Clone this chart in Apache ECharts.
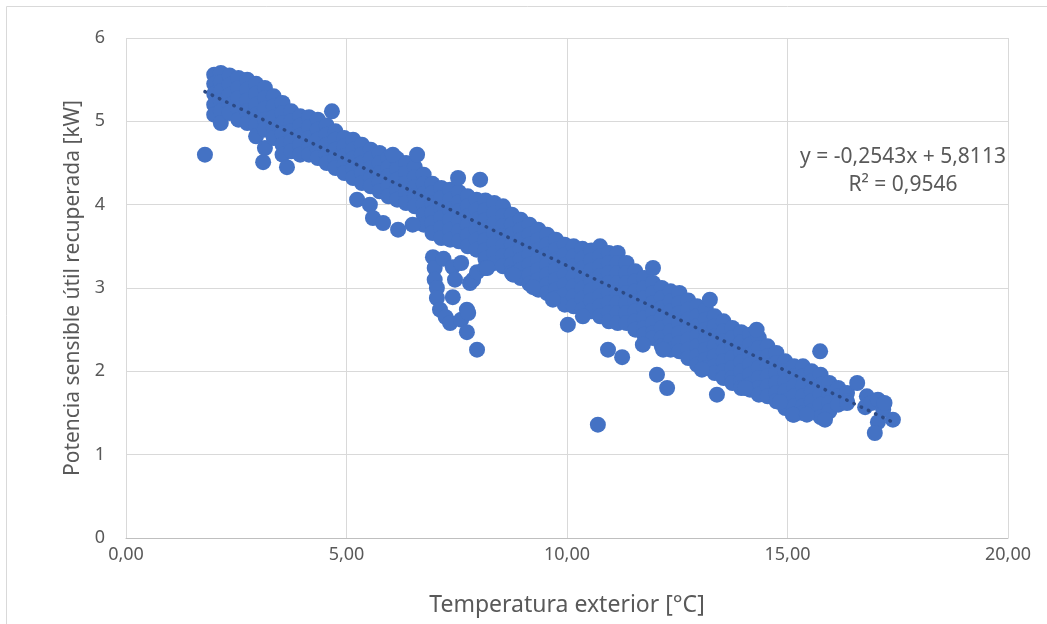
<!DOCTYPE html>
<html>
<head>
<meta charset="utf-8">
<script src="https://cdn.jsdelivr.net/npm/echarts@6/dist/echarts.min.js"></script>
<style>
  html, body { margin: 0; padding: 0; background: #fff; }
  #chart { width: 1047px; height: 624px; }
</style>
</head>
<body>
<div id="chart"></div>
<script>
// columnas de la nube principal: [temperatura, [potencias...]]
const bandWest = [
  [2.0, [5.56, 5.45, 5.33, 5.2, 5.08]],
  [2.15, [5.58, 5.47, 5.36, 5.24, 5.12, 4.98]],
  [2.35, [5.55, 5.44, 5.32, 5.2, 5.1]],
  [2.55, [5.52, 5.4, 5.28, 5.15, 5.02]],
  [2.75, [5.5, 5.38, 5.25, 5.12, 4.98]],
  [2.95, [5.45, 5.33, 5.2, 5.08, 4.95, 4.82]],
  [3.15, [5.4, 5.28, 5.15, 5.02, 4.9, 4.68]],
  [3.35, [5.3, 5.18, 5.05, 4.92, 4.8]],
  [3.55, [5.22, 5.1, 4.98, 4.85, 4.72, 4.6]],
  [3.75, [5.12, 5.0, 4.88, 4.76, 4.64]],
  [3.95, [5.06, 4.95, 4.83, 4.72, 4.6]],
  [4.15, [5.05, 4.93, 4.8, 4.68, 4.6]],
  [4.35, [5.02, 4.9, 4.78, 4.66, 4.56]],
  [4.55, [4.95, 4.84, 4.72, 4.6, 4.5]],
  [4.75, [4.88, 4.78, 4.66, 4.55, 4.44]],
  [4.95, [4.8, 4.7, 4.58, 4.47, 4.38]],
  [5.15, [4.78, 4.66, 4.55, 4.43, 4.32]],
  [5.35, [4.72, 4.6, 4.5, 4.38, 4.26]],
  [5.55, [4.66, 4.55, 4.44, 4.32, 4.22]],
  [5.75, [4.62, 4.5, 4.38, 4.27, 4.16]],
  [5.95, [4.56, 4.45, 4.34, 4.22, 4.1]],
  [6.15, [4.55, 4.43, 4.3, 4.18, 4.06]],
  [6.35, [4.5, 4.38, 4.26, 4.14, 4.02]],
  [6.55, [4.45, 4.33, 4.21, 4.1, 3.98]]
];
const bandMid = [
  [6.75, [4.36, 4.25, 4.13, 4.0, 3.88, 3.76]],
  [6.95, [4.25, 4.14, 4.02, 3.9, 3.78, 3.66]],
  [7.15, [4.2, 4.08, 3.96, 3.84, 3.72, 3.6]],
  [7.35, [4.18, 4.06, 3.94, 3.82, 3.7, 3.58]],
  [7.55, [4.15, 4.03, 3.92, 3.8, 3.68, 3.56]],
  [7.75, [4.1, 3.98, 3.86, 3.75, 3.63, 3.5]],
  [7.95, [4.06, 3.94, 3.82, 3.7, 3.58, 3.46]],
  [8.15, [4.05, 3.93, 3.81, 3.69, 3.57, 3.45, 3.35]],
  [8.35, [4.02, 3.9, 3.78, 3.66, 3.54, 3.42, 3.3]],
  [8.55, [3.98, 3.86, 3.74, 3.62, 3.5, 3.38, 3.26]],
  [8.75, [3.88, 3.76, 3.64, 3.52, 3.4, 3.28, 3.18]],
  [8.95, [3.82, 3.7, 3.58, 3.46, 3.34, 3.22, 3.12]],
  [9.15, [3.76, 3.64, 3.52, 3.4, 3.28, 3.16, 3.05]],
  [9.35, [3.7, 3.58, 3.46, 3.34, 3.22, 3.1, 2.98]],
  [9.55, [3.64, 3.52, 3.4, 3.28, 3.16, 3.04, 2.94]],
  [9.75, [3.58, 3.46, 3.34, 3.22, 3.1, 2.98, 2.88]],
  [9.95, [3.52, 3.4, 3.28, 3.16, 3.04, 2.92, 2.8]],
  [10.15, [3.5, 3.38, 3.26, 3.14, 3.02, 2.9, 2.78]],
  [10.35, [3.47, 3.35, 3.23, 3.11, 2.99, 2.87, 2.74]],
  [10.55, [3.45, 3.33, 3.21, 3.09, 2.97, 2.85, 2.72]],
  [10.75, [3.5, 3.38, 3.26, 3.14, 3.02, 2.9, 2.78, 2.66]],
  [10.95, [3.42, 3.3, 3.18, 3.06, 2.94, 2.82, 2.7, 2.6]]
];
const bandEast = [
  [11.15, [3.42, 3.3, 3.18, 3.06, 2.94, 2.82, 2.7, 2.58]],
  [11.35, [3.3, 3.18, 3.06, 2.94, 2.82, 2.7, 2.58]],
  [11.55, [3.2, 3.08, 2.96, 2.84, 2.72, 2.6, 2.5]],
  [11.75, [3.12, 3.0, 2.88, 2.76, 2.64, 2.52, 2.44]],
  [11.95, [3.06, 2.94, 2.82, 2.7, 2.58, 2.46, 2.4]],
  [12.15, [3.0, 2.88, 2.76, 2.64, 2.52, 2.4, 2.3]],
  [12.35, [2.96, 2.84, 2.72, 2.6, 2.48, 2.36, 2.26]],
  [12.55, [2.94, 2.82, 2.7, 2.58, 2.46, 2.34, 2.24]],
  [12.75, [2.85, 2.74, 2.62, 2.5, 2.38, 2.26, 2.16]],
  [12.95, [2.78, 2.66, 2.54, 2.42, 2.3, 2.18, 2.08]],
  [13.15, [2.74, 2.62, 2.5, 2.38, 2.26, 2.14, 2.04]],
  [13.35, [2.66, 2.54, 2.42, 2.3, 2.18, 2.06, 1.98]],
  [13.55, [2.6, 2.48, 2.36, 2.24, 2.12, 2.0, 1.92]],
  [13.75, [2.52, 2.4, 2.28, 2.16, 2.04, 1.92, 1.86]],
  [13.95, [2.47, 2.35, 2.23, 2.11, 2.0, 1.88, 1.8]],
  [14.15, [2.44, 2.32, 2.2, 2.08, 1.96, 1.84, 1.78]],
  [14.35, [2.4, 2.28, 2.16, 2.04, 1.92, 1.8, 1.72]],
  [14.55, [2.3, 2.18, 2.06, 1.94, 1.82, 1.7]],
  [14.75, [2.22, 2.1, 1.98, 1.86, 1.74, 1.64]],
  [14.95, [2.12, 2.0, 1.88, 1.76, 1.64, 1.56]],
  [15.15, [2.06, 1.94, 1.82, 1.7, 1.58, 1.48]],
  [15.35, [2.06, 1.94, 1.82, 1.7, 1.58, 1.5]],
  [15.55, [2.0, 1.88, 1.76, 1.64, 1.52]],
  [15.75, [1.96, 1.84, 1.72, 1.6, 1.45]],
  [15.95, [1.86, 1.74, 1.62, 1.52]],
  [16.15, [1.8, 1.7, 1.6]],
  [16.35, [1.74, 1.64]]
];
// rama inferior entre 7 y 8 °C
const lowerBranch = [
  [6.96, 3.37], [7.0, 3.24], [7.0, 3.1], [7.05, 3.0], [7.05, 2.88], [7.12, 2.74],
  [7.2, 3.35], [7.25, 2.65], [7.35, 2.58], [7.41, 3.25], [7.41, 2.89], [7.46, 3.1],
  [7.6, 3.3], [7.6, 2.62], [7.73, 2.74], [7.73, 2.47], [7.76, 2.7], [7.8, 3.06],
  [7.87, 3.1], [7.96, 3.19], [7.96, 2.26], [8.14, 3.24], [8.19, 3.24]
];
// puntos sueltos
const outliers = [
  [1.79, 4.6], [3.11, 4.51], [3.65, 4.45], [4.67, 5.12], [6.05, 4.6], [6.6, 4.6],
  [7.53, 4.32], [8.03, 4.3], [5.24, 4.06], [5.53, 4.0], [5.6, 3.84], [5.83, 3.78],
  [6.17, 3.7], [6.5, 3.76], [8.78, 3.16], [9.23, 3.01], [9.68, 2.86], [10.02, 2.56],
  [10.36, 2.66], [10.7, 1.36], [10.93, 2.26], [11.25, 2.17], [11.72, 2.32], [11.95, 3.24],
  [12.04, 1.96], [12.18, 2.26], [12.27, 1.8], [13.06, 2.02], [13.24, 2.86], [13.4, 1.72],
  [14.04, 1.8], [14.3, 2.5], [14.83, 1.63], [15.12, 1.48], [15.44, 1.48], [15.74, 2.24],
  [15.85, 1.42], [16.35, 1.62]
];
// cola a la derecha
const tail = [
  [16.58, 1.86], [16.8, 1.7], [16.76, 1.57], [16.9, 1.62], [17.05, 1.66], [17.17, 1.54],
  [17.2, 1.62], [17.05, 1.39], [16.98, 1.26], [17.39, 1.42]
];

// línea de tendencia (Excel)
const slope = -0.2543;
const intercept = 5.8113;
const r2 = 0.9546;

const xTicks = [0, 5, 10, 15, 20];
const yTicks = [0, 1, 2, 3, 4, 5, 6];

const fmt = (v, d) => v.toFixed(d).replace('.', ',');

let points = [];
[bandWest, bandMid, bandEast].forEach(group => {
  group.forEach(col => {
    col[1].forEach(y => points.push([col[0], y]));
  });
});
points = points.concat(lowerBranch, outliers, tail);

const xs = points.map(p => p[0]);
const xMin = Math.min(...xs), xMax = Math.max(...xs);
const trend = [[xMin, slope * xMin + intercept], [xMax, slope * xMax + intercept]];

const font = 'Noto Sans';
const gray = '#595959';

let myChart = echarts.init(document.getElementById('chart'));
myChart.setOption({
  animation: false,
  textStyle: { fontFamily: font },
  grid: { left: 126, right: 39, top: 38, bottom: 86 },
  graphic: [
    {
      type: 'rect',
      shape: { x: 6.5, y: 6.5, width: 1100, height: 700 },
      style: { fill: 'none', stroke: '#d9d9d9', lineWidth: 1 },
      silent: true
    },
    {
      type: 'text',
      style: {
        x: 903, y: 157, text: 'y = ' + fmt(slope, 4) + 'x + ' + fmt(intercept, 4),
        fill: gray, font: '21px "Noto Sans"', textAlign: 'center', textVerticalAlign: 'middle'
      },
      z: 10
    },
    {
      type: 'text',
      style: {
        x: 903, y: 185, text: 'R² = ' + fmt(r2, 4),
        fill: gray, font: '21px "Noto Sans"', textAlign: 'center', textVerticalAlign: 'middle'
      },
      z: 10
    }
  ],
  xAxis: {
    type: 'value',
    min: xTicks[0], max: xTicks[xTicks.length - 1], interval: 5,
    name: 'Temperatura exterior [°C]',
    nameLocation: 'middle', nameGap: 56,
    nameTextStyle: { color: gray, fontSize: 23, fontFamily: font },
    axisLine: { show: true, lineStyle: { color: '#bfbfbf', width: 1 } },
    axisTick: { show: false },
    axisLabel: { color: gray, fontSize: 18, margin: 8, formatter: v => fmt(v, 2) },
    splitLine: { show: true, lineStyle: { color: '#d9d9d9', width: 1 } }
  },
  yAxis: {
    type: 'value',
    min: yTicks[0], max: yTicks[yTicks.length - 1], interval: 1,
    name: 'Potencia sensible útil recuperada [kW]',
    nameLocation: 'middle', nameGap: 41,
    nameTextStyle: { color: gray, fontSize: 21, fontFamily: font },
    axisLine: { show: false },
    axisTick: { show: false },
    axisLabel: { color: gray, fontSize: 18, margin: 21, formatter: v => String(v) },
    splitLine: { show: true, lineStyle: { color: '#d9d9d9', width: 1 } }
  },
  series: [
    {
      type: 'scatter',
      data: points,
      symbol: 'circle',
      symbolSize: 16,
      itemStyle: { color: '#4472c4', opacity: 1 },
      z: 2
    },
    {
      type: 'line',
      data: trend,
      symbol: 'none',
      lineStyle: { color: '#2c4a85', width: 3.5, type: [0.5, 7.5], cap: 'round' },
      z: 3
    }
  ]
});
</script>
</body>
</html>
